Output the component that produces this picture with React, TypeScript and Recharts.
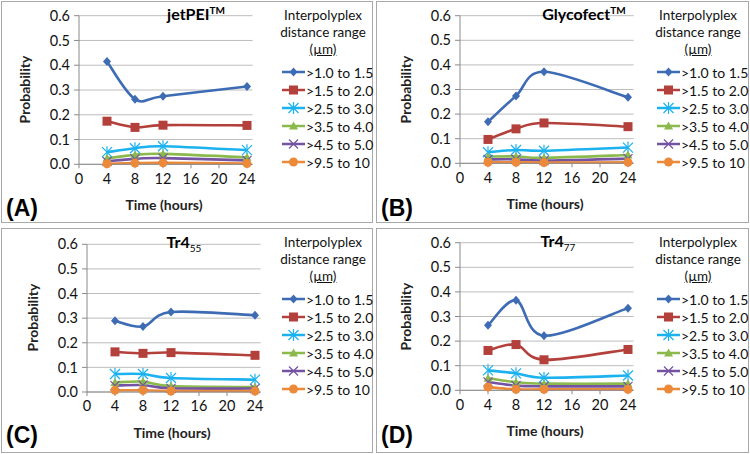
import React from "react";
import { LineChart, Line, XAxis, YAxis, CartesianGrid } from "recharts";

const hours = [4, 8, 12, 24];
const ranges = [">1.0 to 1.5", ">1.5 to 2.0", ">2.5 to 3.0", ">3.5 to 4.0", ">4.5 to 5.0", ">9.5 to 10"];
const xTicks = [0, 4, 8, 12, 16, 20, 24];
const yTicks = [0, 0.1, 0.2, 0.3, 0.4, 0.5, 0.6];

// one row per distance range, values at 4, 8, 12, 24 h
const jetPEI = [
  [0.415, 0.263, 0.275, 0.314],
  [0.174, 0.149, 0.158, 0.157],
  [0.049, 0.065, 0.073, 0.057],
  [0.024, 0.038, 0.042, 0.028],
  [0.012, 0.022, 0.025, 0.016],
  [0.002, 0.005, 0.006, 0.003],
];
const glycofect = [
  [0.169, 0.274, 0.372, 0.268],
  [0.097, 0.140, 0.164, 0.149],
  [0.045, 0.054, 0.051, 0.064],
  [0.027, 0.028, 0.022, 0.034],
  [0.016, 0.016, 0.011, 0.019],
  [0.004, 0.004, 0.003, 0.004],
];
const tr455 = [
  [0.289, 0.266, 0.325, 0.312],
  [0.163, 0.157, 0.160, 0.149],
  [0.073, 0.073, 0.057, 0.050],
  [0.039, 0.042, 0.024, 0.020],
  [0.026, 0.028, 0.015, 0.014],
  [0.007, 0.007, 0.004, 0.004],
];
const tr477 = [
  [0.264, 0.366, 0.222, 0.334],
  [0.162, 0.186, 0.124, 0.166],
  [0.081, 0.069, 0.051, 0.060],
  [0.049, 0.033, 0.027, 0.027],
  [0.034, 0.019, 0.016, 0.016],
  [0.013, 0.004, 0.004, 0.004],
];

const colors = ["#3d6cb4", "#b4403c", "#1cb2ef", "#8bb94c", "#7453a3", "#ec8a3a"];
const FONT = "Lato, 'Liberation Sans', sans-serif";

// Excel style smoothing (Catmull-Rom as cubic bezier)
function excelSmooth(context: any) {
  let pts: number[][] = [];
  return {
    areaStart() {},
    areaEnd() {},
    lineStart() {
      pts = [];
    },
    point(x: number, y: number) {
      pts.push([+x, +y]);
    },
    lineEnd() {
      const n = pts.length;
      if (!n) return;
      context.moveTo(pts[0][0], pts[0][1]);
      for (let i = 0; i < n - 1; i++) {
        const p0 = pts[i - 1] || pts[i];
        const p1 = pts[i];
        const p2 = pts[i + 1];
        const p3 = pts[i + 2] || p2;
        context.bezierCurveTo(
          p1[0] + (p2[0] - p0[0]) / 6,
          p1[1] + (p2[1] - p0[1]) / 6,
          p2[0] - (p3[0] - p1[0]) / 6,
          p2[1] - (p3[1] - p1[1]) / 6,
          p2[0],
          p2[1]
        );
      }
    },
  };
}

function Marker({ idx, cx, cy }: { idx: number; cx: number; cy: number }) {
  const c = colors[idx];
  if (idx === 0) {
    return <path d={`M${cx},${cy - 4.5}L${cx + 4},${cy}L${cx},${cy + 4.5}L${cx - 4},${cy}Z`} fill={c} />;
  }
  if (idx === 1) {
    return <rect x={cx - 4.5} y={cy - 4.5} width={9} height={9} fill={c} />;
  }
  if (idx === 2) {
    return (
      <g stroke={c} strokeWidth={1.2}>
        <line x1={cx - 5} y1={cy - 5} x2={cx + 5} y2={cy + 5} />
        <line x1={cx - 5} y1={cy + 5} x2={cx + 5} y2={cy - 5} />
        <line x1={cx} y1={cy - 6} x2={cx} y2={cy + 6} />
      </g>
    );
  }
  if (idx === 3) {
    return <path d={`M${cx},${cy - 4.5}L${cx + 4.5},${cy + 3.5}L${cx - 4.5},${cy + 3.5}Z`} fill={c} />;
  }
  if (idx === 4) {
    return (
      <g stroke={c} strokeWidth={1.2}>
        <line x1={cx - 4.5} y1={cy - 4.5} x2={cx + 4.5} y2={cy + 4.5} />
        <line x1={cx - 4.5} y1={cy + 4.5} x2={cx + 4.5} y2={cy - 4.5} />
      </g>
    );
  }
  return <circle cx={cx} cy={cy} r={4.5} fill={c} />;
}

type PanelProps = {
  letter: string;
  title: React.ReactNode;
  values: number[][];
  left: number;
  top: number;
  w: number;
  h: number;
  plotLeft: number;
  plotTop: number;
  plotBottom: number;
  titleX: number;
};

function Panel(p: PanelProps) {
  const data = hours.map((hr, i) => {
    const row: any = { hr };
    p.values.forEach((s, k) => (row["s" + k] = s[i]));
    return row;
  });
  const plotW = 7 * 24.8;
  const xAxisH = 30;
  const yAxisW = 40;
  const margin = {
    top: p.plotTop,
    left: p.plotLeft - yAxisW,
    right: p.w - p.plotLeft - plotW,
    bottom: p.h - p.plotBottom - xAxisH,
  };
  const midY = (p.plotTop + p.plotBottom) / 2;
  return (
    <div
      style={{
        position: "absolute",
        left: p.left,
        top: p.top,
        width: p.w,
        height: p.h,
        border: "1px solid #a9a9a9",
        boxSizing: "border-box",
        background: "#fff",
        fontFamily: FONT,
      }}
    >
      <div style={{ position: "absolute", left: -1, top: -1 }}>
        <LineChart width={p.w} height={p.h} data={data} margin={margin}>
          <CartesianGrid vertical={false} stroke="#bdbdbd" />
          <XAxis
            type="number"
            dataKey="hr"
            domain={[0, 24.8]}
            ticks={xTicks}
            height={xAxisH}
            stroke="#8a8a8a"
            tickSize={4}
            tickMargin={5}
            tick={{ fill: "#111", fontSize: 14.5, fontFamily: FONT }}
          />
          <YAxis
            type="number"
            domain={[0, 0.6]}
            ticks={yTicks}
            width={yAxisW}
            stroke="#8a8a8a"
            tickSize={5}
            tickMargin={4}
            tickFormatter={(v: number) => v.toFixed(1)}
            tick={{ fill: "#111", fontSize: 14.5, fontFamily: FONT }}
          />
          {p.values.map((_, k) => (
            <Line
              key={k}
              dataKey={"s" + k}
              type={excelSmooth as any}
              stroke={colors[k]}
              strokeWidth={2.6}
              isAnimationActive={false}
              dot={(d: any) => <Marker key={k + "-" + d.index} idx={k} cx={d.cx} cy={d.cy} />}
              activeDot={false}
            />
          ))}
        </LineChart>
      </div>
      <div
        style={{
          position: "absolute",
          left: p.titleX - 60,
          width: 120,
          top: p.plotTop - 13,
          textAlign: "center",
          fontWeight: 700,
          fontSize: 16,
        }}
      >
        {p.title}
      </div>
      <div
        style={{
          position: "absolute",
          left: p.plotLeft - 56 - 60,
          top: midY - 10,
          width: 120,
          textAlign: "center",
          fontWeight: 700,
          fontSize: 14,
          color: "#222",
          transform: "rotate(-90deg)",
        }}
      >
        Probability
      </div>
      <div
        style={{
          position: "absolute",
          left: p.plotLeft + 84 - 60,
          top: p.plotBottom + 31,
          width: 120,
          textAlign: "center",
          fontWeight: 700,
          fontSize: 14,
          color: "#222",
        }}
      >
        Time (hours)
      </div>
      <div
        style={{
          position: "absolute",
          left: 4,
          top: 193,
          fontWeight: 700,
          fontSize: 23,
          fontFamily: "'Liberation Sans', Arial, sans-serif",
        }}
      >
        ({p.letter})
      </div>
      <div
        style={{
          position: "absolute",
          left: 271,
          top: 5,
          width: 100,
          textAlign: "center",
          fontSize: 13.5,
          lineHeight: "17px",
          color: "#111",
        }}
      >
        <div>Interpolyplex</div>
        <div>distance range</div>
        <div>
          <span style={{ textDecoration: "underline" }}>(µm)</span>
        </div>
      </div>
      {ranges.map((r, k) => (
        <div
          key={r}
          style={{
            position: "absolute",
            left: 280,
            top: 61 + k * 18,
            height: 18,
            display: "flex",
            alignItems: "center",
            fontSize: 14,
            color: "#111",
            whiteSpace: "nowrap",
          }}
        >
          <svg width={23} height={14}>
            <line x1={0} y1={7} x2={23} y2={7} stroke={colors[k]} strokeWidth={2.5} />
            <Marker idx={k} cx={11.5} cy={7} />
          </svg>
          <span style={{ marginLeft: 1 }}>{r}</span>
        </div>
      ))}
    </div>
  );
}

export default function App() {
  return (
    <div style={{ position: "absolute", left: 0, top: 0, width: 750, height: 454, background: "#fff" }}>
      <Panel
        letter="A"
        title={<span>jetPEI<sup style={{ fontSize: 10 }}>TM</sup></span>}
        values={jetPEI}
        left={1}
        top={1}
        w={372}
        h={222}
        plotLeft={78}
        plotTop={14.7}
        plotBottom={163.3}
        titleX={194}
      />
      <Panel
        letter="B"
        title={<span>Glycofect<sup style={{ fontSize: 10 }}>TM</sup></span>}
        values={glycofect}
        left={376}
        top={1}
        w={373}
        h={222}
        plotLeft={84}
        plotTop={14.7}
        plotBottom={162.3}
        titleX={207}
      />
      <Panel
        letter="C"
        title={<span>Tr4<sub style={{ fontSize: 10, fontWeight: 400 }}>55</sub></span>}
        values={tr455}
        left={1}
        top={228}
        w={372}
        h={225}
        plotLeft={86}
        plotTop={16.3}
        plotBottom={164}
        titleX={182}
      />
      <Panel
        letter="D"
        title={<span>Tr4<sub style={{ fontSize: 10, fontWeight: 400 }}>77</sub></span>}
        values={tr477}
        left={376}
        top={228}
        w={373}
        h={225}
        plotLeft={84}
        plotTop={14.7}
        plotBottom={162.3}
        titleX={181}
      />
    </div>
  );
}
